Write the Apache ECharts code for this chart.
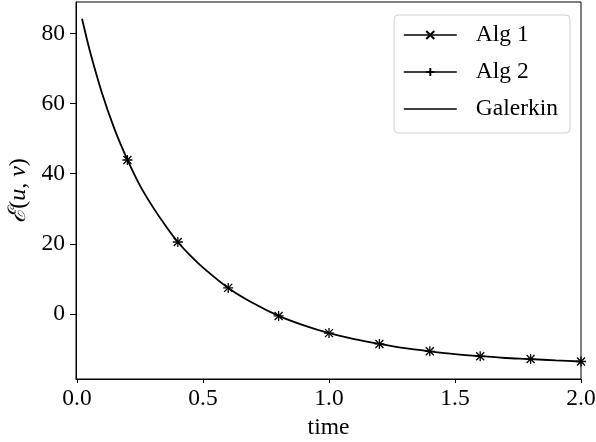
<!DOCTYPE html>
<html>
<head>
<meta charset="utf-8">
<script src="https://cdn.jsdelivr.net/npm/echarts@6/dist/echarts.min.js"></script>
<style>
  html, body { margin: 0; padding: 0; background: #fff; }
  #chart { width: 596px; height: 442px; }
</style>
</head>
<body>
<div id="chart"></div>
<script>
// Sampled times and energy values of the two algorithms
const algTimes = [0.2, 0.4, 0.6, 0.8, 1.0, 1.2, 1.4, 1.6, 1.8, 2.0];
const alg1Values = [43.9, 20.5, 7.4, -0.6, -5.5, -8.6, -10.7, -12.1, -12.9, -13.6];
const alg2Values = [43.9, 20.5, 7.4, -0.6, -5.5, -8.6, -10.7, -12.1, -12.9, -13.6];

// Reference Galerkin solution
const galerkinTimes = [0.02, 0.05, 0.1, 0.15, 0.2, 0.25, 0.3, 0.35, 0.4, 0.45, 0.5, 0.6, 0.7,
  0.8, 0.9, 1.0, 1.1, 1.2, 1.3, 1.4, 1.5, 1.6, 1.7, 1.8, 1.9, 2.0];
const galerkinValues = [84.2, 75.3, 62.8, 52.5, 44.0, 36.6, 30.6, 25.3, 20.5, 16.6, 13.2, 7.4, 3.0,
  -0.6, -3.3, -5.5, -7.2, -8.6, -9.8, -10.7, -11.5, -12.1, -12.6, -12.9, -13.3, -13.6];

const xTicks = [0, 0.5, 1.0, 1.5, 2.0];
const yTicks = [0, 20, 40, 60, 80];

const seriesNames = ['Alg 1', 'Alg 2', 'Galerkin'];

const FONT = '"Liberation Serif", "DejaVu Serif", serif';
const FS = 23.5;
const crossSymbol = 'path://M0,0L10,10M10,0L0,10';
const plusSymbol = 'path://M5,0L5,10M0,5L10,5';

const pairs = (xs, ys) => xs.map((x, i) => [x, ys[i]]);

// Legend entries show a solid black line; the algorithm markers sit on the Galerkin curve
const legendLine = { color: '#000', width: 1.4, opacity: 1 };

const chart = echarts.init(document.getElementById('chart'), null, { renderer: 'canvas' });

chart.setOption({
  animation: false,
  backgroundColor: '#fff',
  grid: {
    left: 76, right: 15, top: 2, bottom: 63,
    outerBoundsMode: 'none', containLabel: false,
    show: true, borderColor: '#000', borderWidth: 1, backgroundColor: 'transparent'
  },
  legend: {
    data: [
      { name: seriesNames[0], lineStyle: legendLine },
      { name: seriesNames[1], lineStyle: legendLine },
      { name: seriesNames[2], lineStyle: legendLine, itemStyle: { opacity: 0 } }
    ],
    orient: 'vertical',
    right: 26, top: 15,
    itemWidth: 53, itemHeight: 10, itemGap: 11,
    padding: [7, 12, 11, 9],
    backgroundColor: 'rgba(255,255,255,0.8)',
    borderColor: '#d0d0d0', borderWidth: 1, borderRadius: 4,
    textStyle: { fontFamily: FONT, fontSize: FS, color: '#000', lineHeight: 26, padding: [0, 0, 0, 14] }
  },
  xAxis: {
    type: 'value',
    min: -0.004, max: 2.0,
    name: 'time', nameLocation: 'middle', nameGap: 37,
    nameTextStyle: { fontFamily: FONT, fontSize: FS, color: '#000' },
    axisLine: { show: true, onZero: false, lineStyle: { color: '#000', width: 1 } },
    axisTick: { show: true, length: 4, customValues: xTicks, lineStyle: { color: '#000' } },
    axisLabel: {
      customValues: xTicks, margin: 8,
      fontFamily: FONT, fontSize: FS, color: '#000',
      formatter: v => v.toFixed(1)
    },
    splitLine: { show: false }
  },
  yAxis: {
    type: 'value',
    min: -18.6, max: 89.0,
    name: '{s|ℰ}{n|(}{i|u}{n|, }{i|v}{n|)}', nameLocation: 'middle', nameGap: 38,
    nameTextStyle: {
      fontFamily: FONT, fontSize: 24, color: '#000',
      rich: {
        s: { fontFamily: '"DejaVu Serif", serif', fontSize: 24, fontStyle: 'italic', color: '#000' },
        n: { fontFamily: FONT, fontSize: 24, color: '#000' },
        i: { fontFamily: FONT, fontSize: 24, fontStyle: 'italic', color: '#000' }
      }
    },
    axisLine: { show: true, onZero: false, lineStyle: { color: '#000', width: 1 } },
    axisTick: { show: true, length: 6, customValues: yTicks, lineStyle: { color: '#000' } },
    axisLabel: {
      customValues: yTicks, margin: 11,
      fontFamily: FONT, fontSize: FS, color: '#000'
    },
    splitLine: { show: false }
  },
  series: [
    {
      name: seriesNames[0], type: 'line',
      data: pairs(algTimes, alg1Values),
      symbol: crossSymbol, symbolSize: 8, showAllSymbol: true,
      lineStyle: { color: '#000', width: 1.4, opacity: 0 },
      itemStyle: { color: '#000', borderColor: '#000', borderWidth: 1.3 },
      z: 3
    },
    {
      name: seriesNames[1], type: 'line',
      data: pairs(algTimes, alg2Values),
      symbol: plusSymbol, symbolSize: 10, showAllSymbol: true,
      lineStyle: { color: '#000', width: 1.4, opacity: 0 },
      itemStyle: { color: '#000', borderColor: '#000', borderWidth: 1.3 },
      z: 3
    },
    {
      name: seriesNames[2], type: 'line',
      data: pairs(galerkinTimes, galerkinValues),
      symbol: 'none', smooth: 0.25,
      lineStyle: { color: '#000', width: 1.8 },
      itemStyle: { color: '#000' },
      z: 2
    }
  ]
});
</script>
</body>
</html>
